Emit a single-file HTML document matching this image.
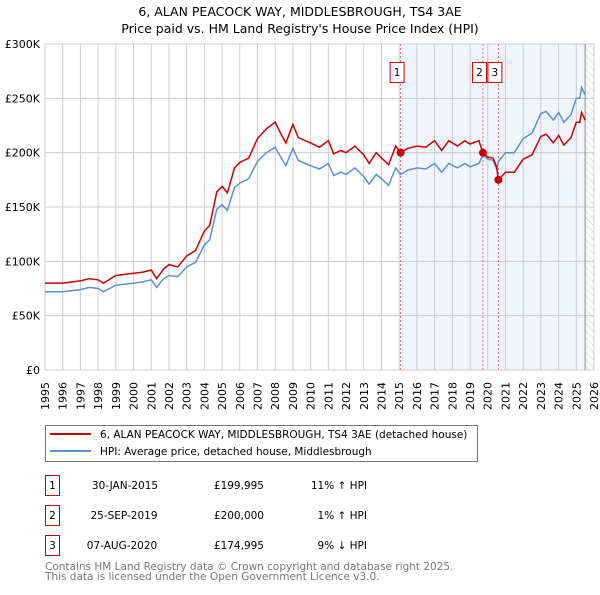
<!DOCTYPE html>
<html><head><meta charset="utf-8"><style>
body{margin:0;background:#fff;font-family:"Liberation Sans","DejaVu Sans",sans-serif;}
svg text{font-family:"DejaVu Sans","Liberation Sans",sans-serif;}
</style></head><body>
<svg width="600" height="590" xmlns="http://www.w3.org/2000/svg">
<defs><pattern id="hatch" width="5" height="5" patternUnits="userSpaceOnUse" patternTransform="rotate(-45)"><line x1="0" y1="0" x2="0" y2="5" stroke="#bbb" stroke-width="0.8"/></pattern></defs>
<text x="300" y="16" text-anchor="middle" font-size="12.5">6, ALAN PEACOCK WAY, MIDDLESBROUGH, TS4 3AE</text>
<text x="300" y="33" text-anchor="middle" font-size="12.5">Price paid vs. HM Land Registry's House Price Index (HPI)</text>
<g id="plot"></g>
<g>
<rect x="45.5" y="425.5" width="432" height="36" fill="#fff" stroke="#777"/>
<line x1="50" y1="434" x2="91" y2="434" stroke="#cc0000" stroke-width="2"/>
<text x="100" y="438" font-size="10.5">6, ALAN PEACOCK WAY, MIDDLESBROUGH, TS4 3AE (detached house)</text>
<line x1="50" y1="451" x2="91" y2="451" stroke="#5b8fd4" stroke-width="2"/>
<text x="100" y="455" font-size="10.5">HPI: Average price, detached house, Middlesbrough</text>
</g>
<g font-size="10.5">
<rect x="45.5" y="475.5" width="14" height="20" fill="#fff" stroke="#cc0000"/><text x="52.5" y="489" text-anchor="middle">1</text>
<text x="125" y="489" text-anchor="middle">30-JAN-2015</text><text x="264" y="489" text-anchor="end">£199,995</text><text x="367" y="489" text-anchor="end">11% ↑ HPI</text>
<rect x="45.5" y="505.5" width="14" height="20" fill="#fff" stroke="#cc0000"/><text x="52.5" y="519" text-anchor="middle">2</text>
<text x="124" y="519" text-anchor="middle">25-SEP-2019</text><text x="264" y="519" text-anchor="end">£200,000</text><text x="367" y="519" text-anchor="end">1% ↑ HPI</text>
<rect x="45.5" y="535.5" width="14" height="20" fill="#fff" stroke="#cc0000"/><text x="52.5" y="549" text-anchor="middle">3</text>
<text x="122" y="549" text-anchor="middle">07-AUG-2020</text><text x="264" y="549" text-anchor="end">£174,995</text><text x="367" y="549" text-anchor="end">9% ↓ HPI</text>
</g>
<text x="45" y="570" font-size="10.5" fill="#777">Contains HM Land Registry data © Crown copyright and database right 2025.</text>
<text x="45" y="580" font-size="10.5" fill="#777">This data is licensed under the Open Government Licence v3.0.</text>
</svg>
<script>
const dates=[1995,1996,1997,1997.5,1998,1998.3,1999,2000,2000.5,2001,2001.3,2001.7,2002,2002.5,2003,2003.5,2004,2004.3,2004.7,2005,2005.3,2005.7,2006,2006.5,2007,2007.5,2008,2008.2,2008.6,2009,2009.3,2009.7,2010,2010.5,2011,2011.3,2011.7,2012,2012.5,2013,2013.3,2013.7,2014,2014.4,2014.8,2015.08,2015.5,2016,2016.5,2017,2017.4,2017.8,2018.3,2018.7,2019,2019.5,2019.73,2020,2020.3,2020.5,2020.6,2021,2021.5,2022,2022.5,2023,2023.3,2023.7,2024,2024.3,2024.7,2025,2025.2,2025.3,2025.5];
const hpi=[72,72,74,76,75,72,78,80,81,83,76,84,87,86,95,99,115,120,148,152,147,168,172,176,192,200,205,199,188,204,193,190,188,185,190,179,182,180,186,178,171,180,176,170,186,180,184,186,185,190,182,190,186,190,187,190,198,194,193,185,192,200,200,213,218,236,238,230,237,228,235,250,250,260,253];
const price=[80,80,82,84,83,80,87,89,90,92,84,93,97,95,105,110,128,133,164,169,163,186,191,195,213,222,228,221,209,226,214,211,209,205,211,199,202,200,206,198,190,200,195,189,206,200,204,206,205,211,202,211,206,211,208,211,200,196,195,187,175,182,182,194,198,215,217,209,216,207,214,228,228,237,230];
const saleDates=[2015.08,2019.73,2020.6];
const saleValues=[200,200,175];
const saleLabels=["1","2","3"];
const yTicks=[0,50,100,150,200,250,300];
const yTickLabels=["£0","£50K","£100K","£150K","£200K","£250K","£300K"];
const xTicks=[1995,1996,1997,1998,1999,2000,2001,2002,2003,2004,2005,2006,2007,2008,2009,2010,2011,2012,2013,2014,2015,2016,2017,2018,2019,2020,2021,2022,2023,2024,2025,2026];

const X0=45,X1=594,Y0=370,Y1=44;
const xs=d=>X0+(d-1995)/(2026-1995)*(X1-X0);
const ys=v=>Y0-v/300*(Y0-Y1);
const NS="http://www.w3.org/2000/svg";
const g=document.getElementById('plot');
function el(t,a,p){const e=document.createElementNS(NS,t);for(const k in a)e.setAttribute(k,a[k]);(p||g).appendChild(e);return e;}
let e;
e=el('rect',{x:xs(2015.08),y:Y1,width:xs(2025.5)-xs(2015.08),height:Y0-Y1,fill:'#eef3fc',opacity:0.8});


e=el('rect',{x:xs(2025.5),y:Y1,width:X1-xs(2025.5),height:Y0-Y1,fill:'url(#hatch)'});


xTicks.forEach(t=>{
 e=el('line',{x1:xs(t),x2:xs(t),y1:Y1,y2:Y0,stroke:'#ccc','stroke-width':1});
 
 
 const tx=xs(t)+4, ty=382;
 e=el('text',{x:tx,y:ty,'text-anchor':'end','font-size':'11',transform:'rotate(-90 '+tx+' '+ty+')'});e.textContent=t;
 
 
});
yTicks.forEach((t,i)=>{
 e=el('line',{x1:X0,x2:X1,y1:ys(t),y2:ys(t),stroke:'#ccc','stroke-width':1});
 
 
 e=el('text',{x:40,y:ys(t)+4,'text-anchor':'end','font-size':'11'});e.textContent=yTickLabels[i];
 
 
});
e=el('line',{x1:xs(2025.5),x2:xs(2025.5),y1:Y1,y2:Y0,stroke:'#888','stroke-width':1});


saleDates.forEach((d,i)=>{
 e=el('line',{x1:xs(d),x2:xs(d),y1:Y1,y2:Y0,stroke:'#e05050','stroke-width':0.8,'stroke-dasharray':'2,2'});
 
 
});
function path(vals,col,name){
 const dd=dates.map((d,i)=>(i?'L':'M')+xs(d).toFixed(1)+','+ys(vals[i]).toFixed(1)).join('');
 const p=el('path',{d:dd,fill:'none',stroke:col,'stroke-width':1.5});
 
 
}
path(hpi,'#5b8fd4','hpi-line');
path(price,'#cc0000','price-line');
saleDates.forEach((d,i)=>{
 e=el('circle',{cx:xs(d),cy:ys(saleValues[i]),r:4,fill:'#cc0000'});
 
 
 e=el('rect',{x:xs(d)-10.5,y:62.5,width:14,height:20,fill:'#fff',stroke:'#cc0000'});
 
 
 e=el('text',{x:xs(d)-3.5,y:76,'text-anchor':'middle','font-size':'10.5'});e.textContent=saleLabels[i];
 
 
});
</script>
</body></html>
